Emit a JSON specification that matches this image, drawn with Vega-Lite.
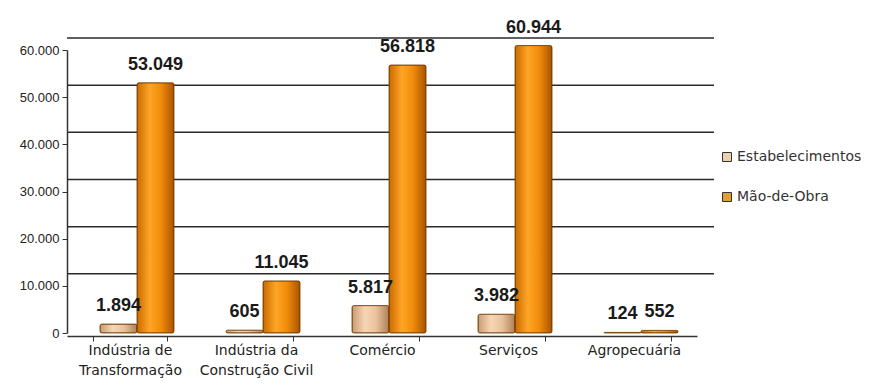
{
  "$schema": "https://vega.github.io/schema/vega-lite/v6.json",
  "autosize": {"type": "none"},
  "padding": {"left": 67, "top": 50, "right": 187, "bottom": 54},
  "width": 630,
  "height": 283,
  "background": "white",
  "config": {
    "locale": {"number": {"decimal": ",", "thousands": ".", "grouping": [3], "currency": ["R$ ", ""]}},
    "view": {"stroke": null},
    "font": "Liberation Sans",
    "axisY": {"grid": false, "domainColor": "#333333", "domainWidth": 1.5, "tickColor": "#333333", "tickSize": 5, "labelFontSize": 13, "labelColor": "#222222", "labelPadding": 3, "labelFont": "Liberation Sans"},
    "axisX": {"grid": false, "domainColor": "#333333", "domainWidth": 1.5, "tickColor": "#333333", "tickSize": 5, "labelFontSize": 14, "labelColor": "#222222", "labelPadding": 2, "labelFont": "DejaVu Sans", "labelLineHeight": 20, "labelAngle": 0, "offset": 3, "tickBand": "extent"}
  },
  "datasets": {
    "setores": [
      {"setor": "Indústria de|Transformação", "serie": "Estabelecimentos", "valor": 1894},
      {"setor": "Indústria de|Transformação", "serie": "Mão-de-Obra", "valor": 53049},
      {"setor": "Indústria da|Construção Civil", "serie": "Estabelecimentos", "valor": 605},
      {"setor": "Indústria da|Construção Civil", "serie": "Mão-de-Obra", "valor": 11045},
      {"setor": "Comércio", "serie": "Estabelecimentos", "valor": 5817},
      {"setor": "Comércio", "serie": "Mão-de-Obra", "valor": 56818},
      {"setor": "Serviços", "serie": "Estabelecimentos", "valor": 3982},
      {"setor": "Serviços", "serie": "Mão-de-Obra", "valor": 60944},
      {"setor": "Agropecuária", "serie": "Estabelecimentos", "valor": 124},
      {"setor": "Agropecuária", "serie": "Mão-de-Obra", "valor": 552}
    ],
    "grade": [{"g": 10000}, {"g": 20000}, {"g": 30000}, {"g": 40000}, {"g": 50000}, {"g": 60000}]
  },
  "layer": [
    {
      "data": {"name": "grade"},
      "mark": {"type": "rule", "color": "#2a2a2a", "strokeWidth": 1.5, "xOffset": 17, "x2Offset": 13, "yOffset": -12},
      "encoding": {
        "y": {"field": "g", "type": "quantitative", "title": null, "scale": {"domain": [0, 60000], "nice": false}, "axis": {"values": [0, 10000, 20000, 30000, 40000, 50000, 60000], "format": ",d"}}
      }
    },
    {
      "data": {"name": "setores"},
      "mark": {"type": "bar"},
      "encoding": {
        "x": {"field": "setor", "type": "nominal", "sort": null, "title": null, "scale": {"paddingInner": 0.413, "paddingOuter": 0.2063}, "axis": {"labelExpr": "split(datum.label, '|')"}},
        "xOffset": {"field": "serie", "type": "nominal", "sort": ["Estabelecimentos", "Mão-de-Obra"], "scale": {"range": [7, 81], "paddingInner": 0, "paddingOuter": 0}},
        "y": {"field": "valor", "type": "quantitative", "title": null, "scale": {"domain": [0, 60000], "nice": false}, "axis": {"values": [0, 10000, 20000, 30000, 40000, 50000, 60000], "format": ",d"}},
        "color": {"field": "serie", "type": "nominal", "sort": ["Estabelecimentos", "Mão-de-Obra"], "scale": {"range": ["#EAD0B0", "#E0A030"]}, "legend": {"title": null, "orient": "none", "legendX": 653, "legendY": 100, "symbolType": "square", "symbolSize": 81, "symbolStrokeColor": "#333333", "symbolStrokeWidth": 1, "symbolOpacity": 1, "labelFontSize": 14, "labelColor": "#333333", "labelOffset": 3, "rowPadding": 26, "labelFont": "DejaVu Sans"}}
      }
    },
    {
      "data": {"name": "setores"},
      "mark": {"type": "bar", "stroke": "#6e3c00", "strokeWidth": 0.8, "cornerRadius": 2},
      "encoding": {
        "x": {"field": "setor", "type": "nominal", "sort": null, "title": null, "axis": {"labelExpr": "split(datum.label, '|')"}},
        "xOffset": {"field": "serie", "type": "nominal", "sort": ["Estabelecimentos", "Mão-de-Obra"]},
        "y": {"field": "valor", "type": "quantitative", "title": null, "axis": {"values": [0, 10000, 20000, 30000, 40000, 50000, 60000], "format": ",d"}},
        "color": {
          "condition": {"test": "datum.serie === 'Estabelecimentos'", "value": {"gradient": "linear", "x1": 0, "y1": 0, "x2": 1, "y2": 0, "stops": [{"offset": 0, "color": "#C99B72"}, {"offset": 0.35, "color": "#F7D6B4"}, {"offset": 0.65, "color": "#E9C29C"}, {"offset": 1, "color": "#AE7F58"}]}},
          "value": {"gradient": "linear", "x1": 0, "y1": 0, "x2": 1, "y2": 0, "stops": [{"offset": 0, "color": "#C96A00"}, {"offset": 0.35, "color": "#FFA526"}, {"offset": 0.65, "color": "#F08C0A"}, {"offset": 1, "color": "#A95300"}]}
        }
      }
    },
    {
      "data": {"name": "setores"},
      "mark": {"type": "text", "dy": -13, "fontSize": 18, "fontWeight": "bold", "color": "#1a1a1a", "baseline": "alphabetic", "font": "Liberation Sans"},
      "encoding": {
        "x": {"field": "setor", "type": "nominal", "sort": null, "title": null, "axis": {"labelExpr": "split(datum.label, '|')"}},
        "xOffset": {"field": "serie", "type": "nominal", "sort": ["Estabelecimentos", "Mão-de-Obra"]},
        "y": {"field": "valor", "type": "quantitative", "title": null, "axis": {"values": [0, 10000, 20000, 30000, 40000, 50000, 60000], "format": ",d"}},
        "text": {"field": "valor", "type": "quantitative", "format": ",d"}
      }
    }
  ]
}
